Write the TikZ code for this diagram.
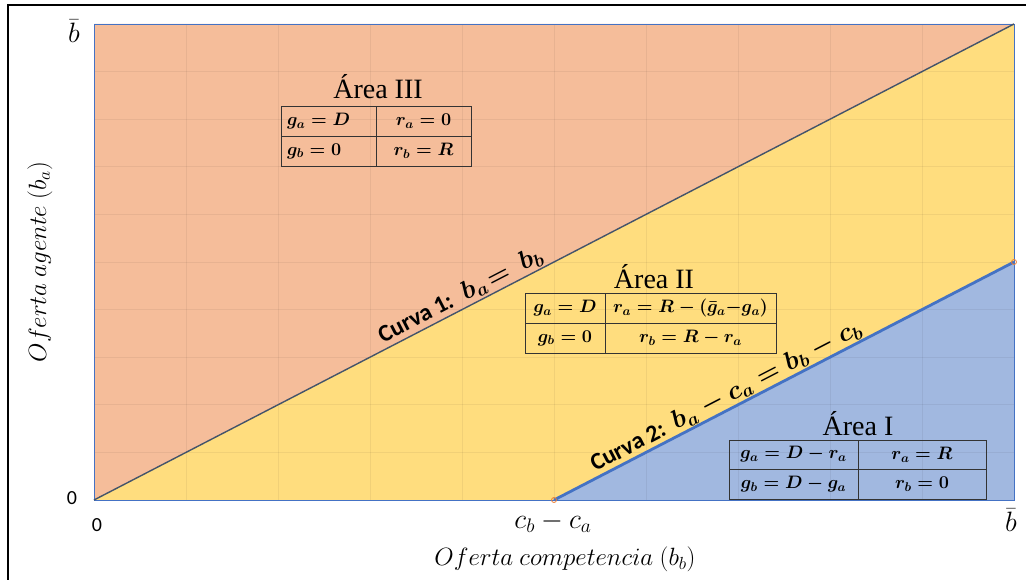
\RequirePackage{fix-cm}
\documentclass[tikz,border=0pt]{standalone}
\usepackage{fontspec}
\setmainfont{Liberation Serif}
\newfontfamily\calib{Carlito}
\definecolor{orng}{RGB}{245,189,154}
\definecolor{yell}{RGB}{255,221,126}
\definecolor{blu}{RGB}{161,184,224}
\definecolor{axblue}{RGB}{68,114,196}
\definecolor{slate}{RGB}{68,84,106}
\definecolor{mark}{RGB}{237,125,49}
\begin{document}
\begin{tikzpicture}[x=1pt,y=-1pt,
  cell/.style={draw=black!80, line width=0.9pt, minimum height=30pt, inner sep=0pt,
    font=\fontsize{18}{18}\selectfont\boldmath},
  areatxt/.style={font=\fontsize{28}{28}\selectfont, anchor=base, inner sep=0pt},
  curvelab/.style={font=\fontsize{24}{24}\selectfont, anchor=south, inner sep=2pt, rotate=27.36},
  tick/.style={font=\fontsize{28}{28}\selectfont, inner sep=0pt},
  zero/.style={font=\calib\fontsize{20}{20}\selectfont, inner sep=0pt},
  axlab/.style={font=\fontsize{25}{25}\selectfont, inner sep=0pt},
  gridln/.style={draw=black, opacity=0.055, line width=0.8pt},
  endmark/.style={circle, draw=mark, line width=0.8pt, minimum size=5pt, inner sep=0pt}]
\useasboundingbox (0,0) rectangle (1026,580);
\fill[white] (0,0) rectangle (1026,580);
\draw[black, line width=1.2pt] (8,585) -- (8,5) -- (1030,5);
% key points
\coordinate (O) at (94,500);
\coordinate (A) at (94,24);
\coordinate (T) at (1014,24);
\coordinate (M) at (554,500);
\coordinate (H) at (1014,262);
\coordinate (E) at (1014,500);
% areas
\fill[orng] (O) -- (A) -- (T) -- cycle;
\fill[yell] (O) -- (T) -- (H) -- (M) -- cycle;
\fill[blu] (M) -- (H) -- (E) -- cycle;
% grid
\foreach \i in {1,...,9} {
  \draw[gridln] (94+92*\i,24) -- (94+92*\i,500);
  \draw[gridln] (94,24+47.6*\i) -- (1014,24+47.6*\i);
}
\draw[axblue, line width=0.9pt] (O) rectangle (T);
% curves
\draw[slate, line width=1.4pt] (O) -- (T);
\draw[axblue, line width=2.8pt] (M) -- (H);
\node[endmark] (m1) at (M) {};
\node[endmark] (m2) at (H) {};
\node[curvelab] (c1) at (466.6,307.2) {{\calib\bfseries Curva 1:}\hspace{12pt}{\fontsize{26}{26}\selectfont\boldmath$b_a\!=\,b_b$}};
\node[curvelab] (c2) at (732,407.9) {{\calib\bfseries Curva 2:}\hspace{10pt}{\fontsize{26}{26}\selectfont\boldmath$b_a - c_a = b_b - c_b$}};
% Area III
\node[areatxt] (a3) at (378,99) {Área III};
\node[cell, minimum width=95pt, text width=83pt, inner xsep=6pt, align=left] (t3a) at (328.5,121) {$g_a = D$};
\node[cell, minimum width=95pt] (t3b) at (423.5,121) {$r_a = 0$};
\node[cell, minimum width=95pt, text width=83pt, inner xsep=6pt, align=left] (t3c) at (328.5,151) {$g_b = 0$};
\node[cell, minimum width=95pt] (t3d) at (423.5,151) {$r_b = R$};
% Area II
\node[areatxt] (a2) at (654,288) {Área II};
\node[cell, minimum width=80pt] (t2a) at (565,308) {$g_a = D$};
\node[cell, minimum width=171pt] (t2b) at (690.5,308) {$r_a = R - (\bar{g}_a {-} g_a)$};
\node[cell, minimum width=80pt] (t2c) at (565,338) {$g_b = 0$};
\node[cell, minimum width=171pt] (t2d) at (690.5,338) {$r_b = R - r_a$};
% Area I
\node[areatxt] (a1) at (858,435) {Área I};
\node[cell, minimum width=129pt, minimum height=29pt] (t1a) at (793.5,454.5) {$g_a = D - r_a$};
\node[cell, minimum width=128pt, minimum height=29pt] (t1b) at (922,454.5) {$r_a = R$};
\node[cell, minimum width=129pt, minimum height=30pt] (t1c) at (793.5,484) {$g_b = D - g_a$};
\node[cell, minimum width=128pt, minimum height=30pt] (t1d) at (922,484) {$r_b = 0$};
% ticks
\node[zero] (y0) at (72,498) {0};
\node[zero] (x0) at (97,525) {0};
\node[tick] (xcc) at (553,522) {$c_b - c_a$};
\node[tick] (xbb) at (1011,520) {$\bar{b}$};
\node[tick] (ybb) at (74,31) {$\bar{b}$};
% axis titles
\node[axlab] (xlab) at (565,559) {$Oferta\ competencia\ (b_b)$};
\node[axlab, rotate=90] (ylab) at (40,262) {$Oferta\ agente\ (b_a)$};
\end{tikzpicture}
\end{document}
